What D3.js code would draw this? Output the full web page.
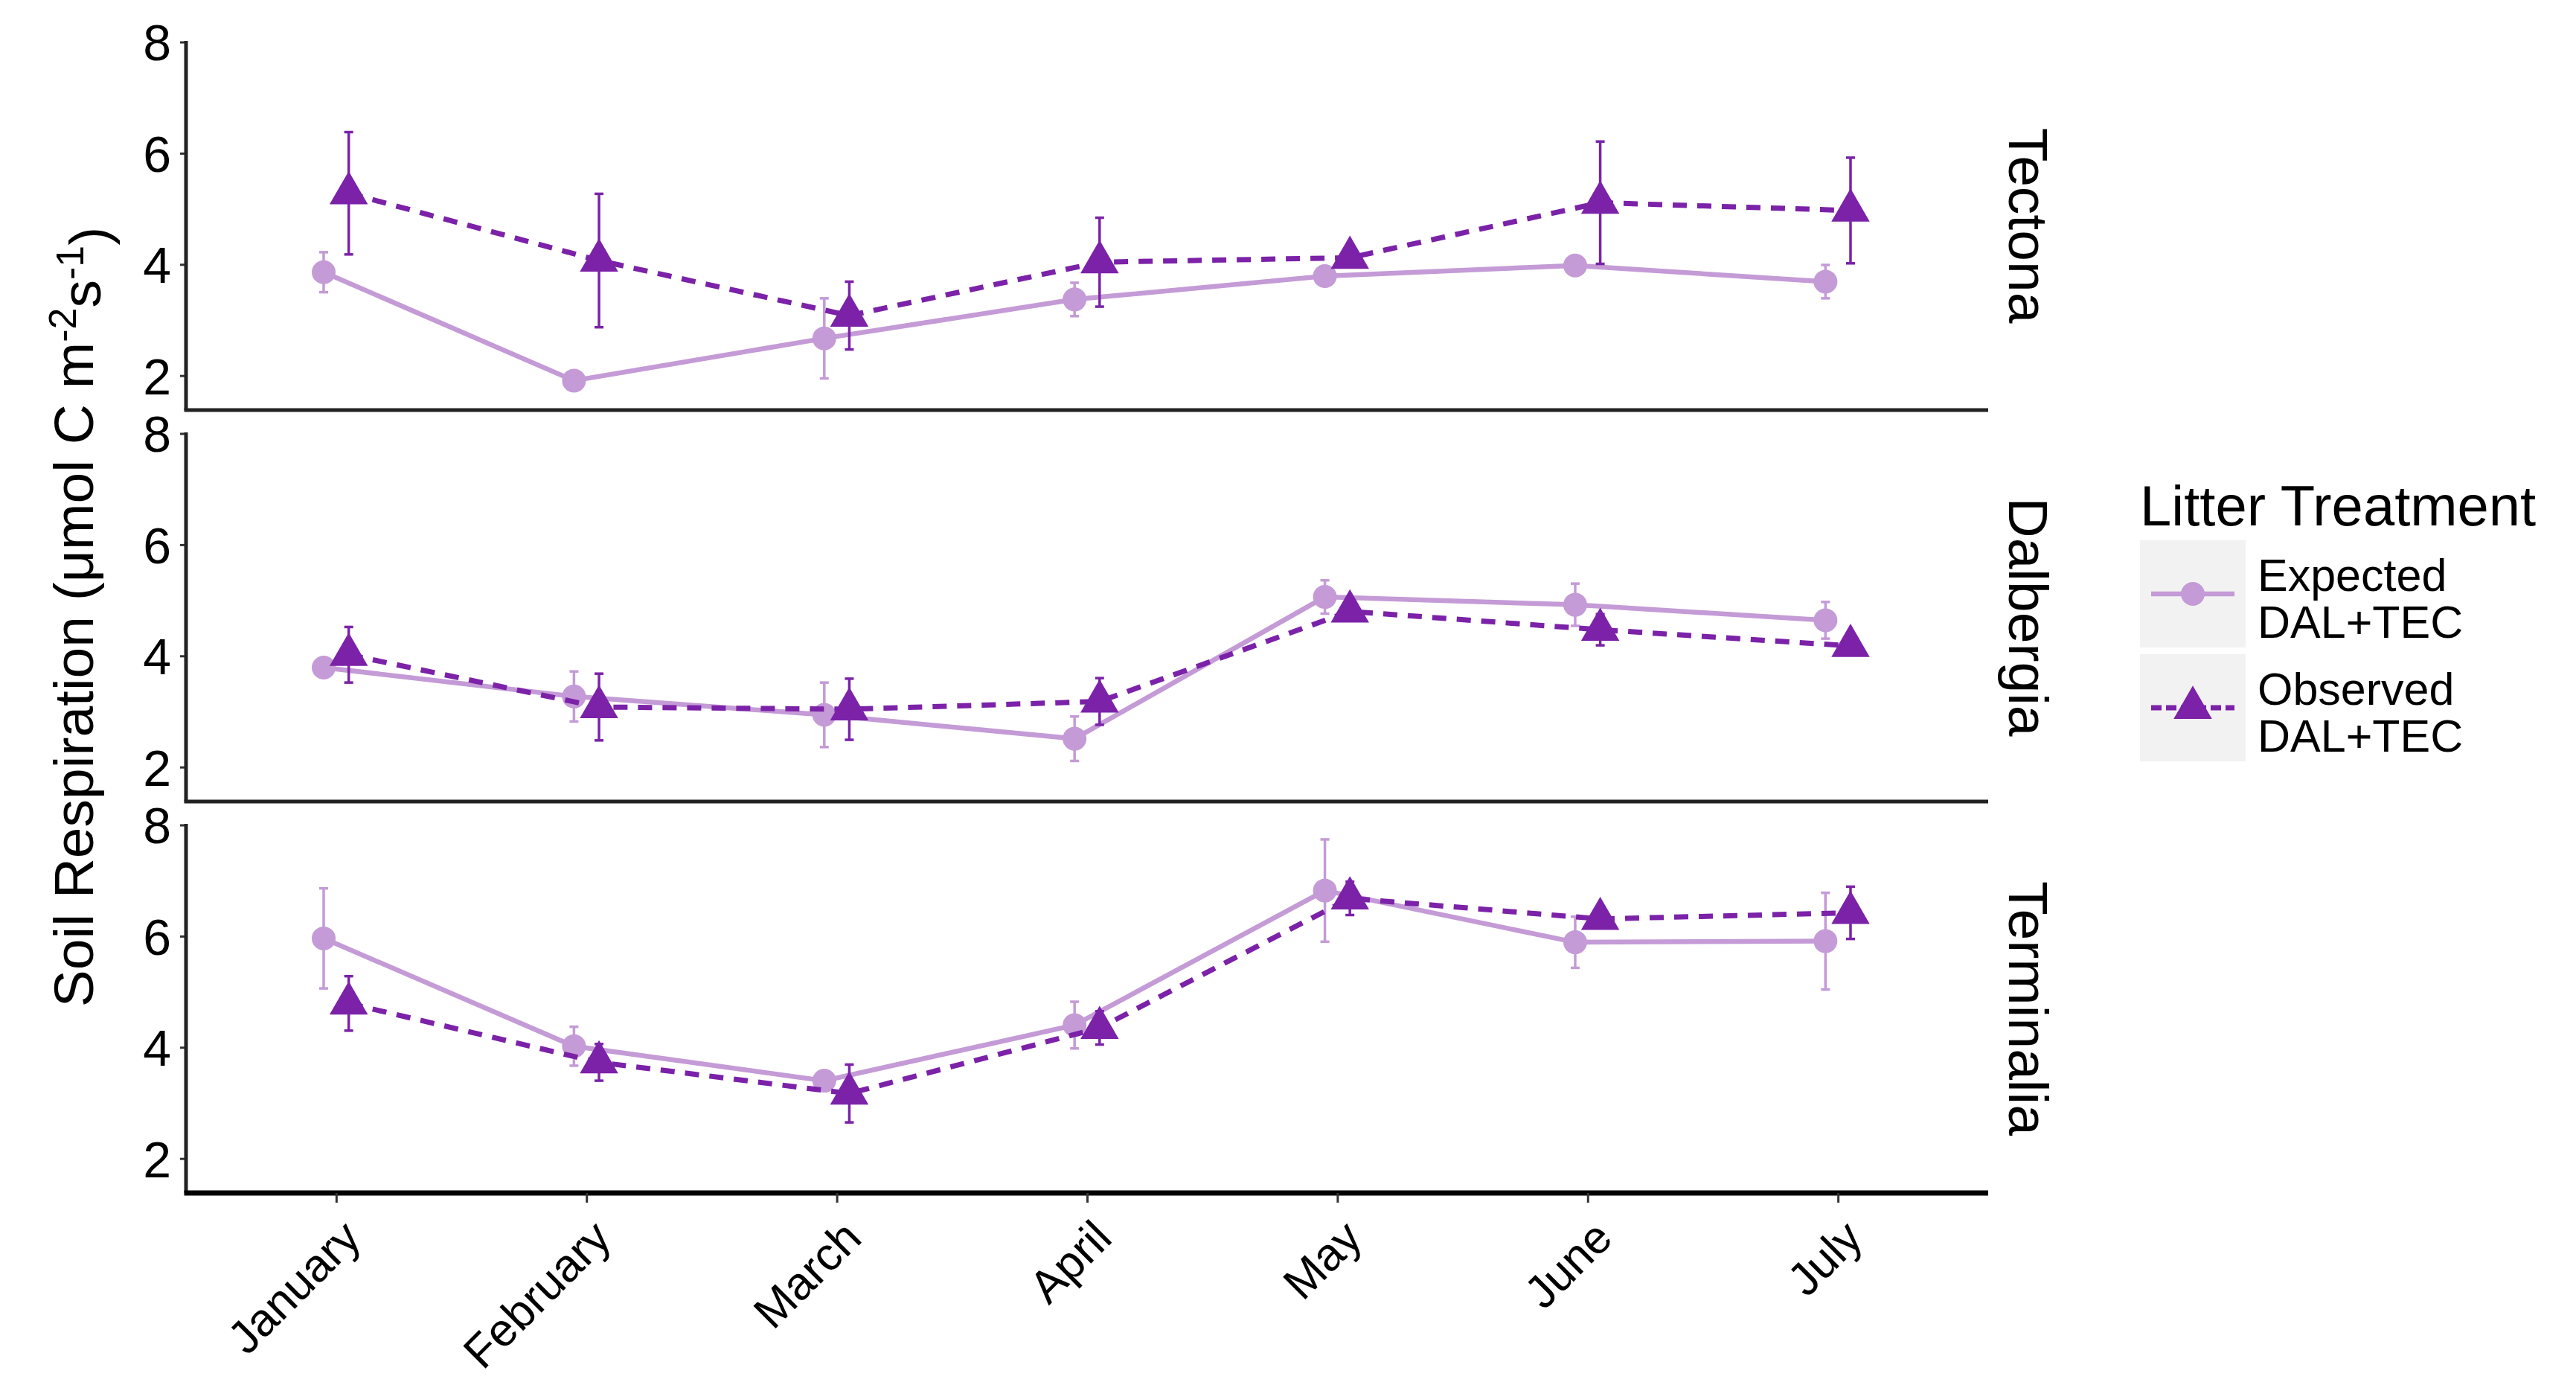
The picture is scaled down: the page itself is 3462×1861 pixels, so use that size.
<!DOCTYPE html>
<html>
<head>
<meta charset="utf-8">
<script src="https://cdn.jsdelivr.net/npm/d3@7"></script>
<style>
	body { margin: 0; background: #fff; }
	text { font-family: "Liberation Sans", Arial, sans-serif; fill: #000; }
</style>
</head>
<body>
<script>
var months = ["January", "February", "March", "April", "May", "June", "July"];
var sites = ["Tectona", "Dalbergia", "Terminalia"];
var yTicks = [2, 4, 6, 8];

//expected (DAL+TEC) means and errors, one row per site
var expMean = [
	[3.86, 1.91, 2.67, 3.37, 3.79, 3.98, 3.69],
	[3.79, 3.27, 2.94, 2.51, 5.06, 4.92, 4.64],
	[5.96, 4.02, 3.40, 4.40, 6.82, 5.89, 5.91]
];
var expErr = [
	[0.36, 0.10, 0.72, 0.30, 0.08, 0.08, 0.30],
	[0.12, 0.45, 0.58, 0.40, 0.30, 0.38, 0.33],
	[0.90, 0.35, 0.10, 0.42, 0.92, 0.46, 0.87]
];

//observed (DAL+TEC) means and errors
var obsMean = [
	[5.28, 4.07, 3.08, 4.04, 4.12, 5.11, 4.97],
	[4.02, 3.08, 3.04, 3.18, 4.80, 4.47, 4.18],
	[4.79, 3.73, 3.17, 4.35, 6.68, 6.31, 6.42]
];
var obsErr = [
	[1.10, 1.20, 0.61, 0.80, 0.06, 1.10, 0.95],
	[0.50, 0.60, 0.55, 0.42, 0.10, 0.28, 0.06],
	[0.49, 0.33, 0.52, 0.30, 0.30, 0.10, 0.47]
];

window.onload = function(){
	var w = 3462, h = 1861;
	var left = 250, right = 2672;
	var panelTop = [55, 581, 1107], panelH = 496;

	var expColor = "#C49BD6", obsColor = "#7B22A8";

	var svg = d3.select("body")
		.append("svg")
		.attr("width", w)
		.attr("height", h)
		.attr("class", "container");

	var x = d3.scalePoint()
		.domain(months)
		.range([left, right])
		.padding(0.6);

	var dodge = x.step() * 0.05;

	var series = [
		{name: "Expected", mean: expMean, err: expErr, color: expColor, off: -dodge, dash: null, width: 6.5},
		{name: "Observed", mean: obsMean, err: obsErr, color: obsColor, off: dodge, dash: "19,14", width: 7}
	];

	var tri = d3.symbol().type(d3.symbolTriangle).size(1150);

	sites.forEach(function(site, si){
		var top = panelTop[si];
		var y = d3.scaleLinear()
			.domain([1.38, 8.02])
			.range([top + panelH, top]);

		var panel = svg.append("g")
			.attr("class", "panel");

		//y axis with ticks 2..8
		var yAxis = d3.axisLeft(y)
			.tickValues(yTicks)
			.tickFormat(d3.format("d"))
			.tickSize(8)
			.tickPadding(12);

		var ya = panel.append("g")
			.attr("class", "axis")
			.attr("transform", "translate(" + left + ",0)")
			.call(yAxis);
		ya.select(".domain").remove();
		ya.selectAll(".tick line").attr("stroke", "#333").attr("stroke-width", 3);
		ya.selectAll("text")
			.style("font-size", "68px")
			.attr("dy", "0.36em");

		panel.append("line")
			.attr("x1", left).attr("x2", left)
			.attr("y1", top).attr("y2", top + panelH)
			.attr("stroke", "#222")
			.attr("stroke-width", 5);

		//bottom line of panel
		panel.append("line")
			.attr("x1", left - 2.5).attr("x2", right)
			.attr("y1", top + panelH).attr("y2", top + panelH)
			.attr("stroke", si == 2 ? "#000" : "#222")
			.attr("stroke-width", si == 2 ? 7 : 5);

		//strip label on the right
		panel.append("text")
			.attr("class", "strip")
			.attr("transform", "translate(2727," + (top + panelH / 2) + ") rotate(90)")
			.attr("text-anchor", "middle")
			.attr("dy", "0.36em")
			.style("font-size", "75px")
			.text(site);

		series.forEach(function(s){
			var pts = months.map(function(m, i){
				return {m: m, v: s.mean[si][i], e: s.err[si][i]};
			});

			var line = d3.line()
				.x(function(d){ return x(d.m) + s.off; })
				.y(function(d){ return y(d.v); });

			panel.append("path")
				.datum(pts)
				.attr("d", line)
				.attr("fill", "none")
				.attr("stroke", s.color)
				.attr("stroke-width", s.width)
				.attr("stroke-dasharray", s.dash);

			//error bars
			var eb = panel.selectAll(".eb" + s.name)
				.data(pts)
				.enter()
				.append("g")
				.attr("stroke", s.color)
				.attr("stroke-width", 3.5);
			eb.append("line")
				.attr("x1", function(d){ return x(d.m) + s.off; })
				.attr("x2", function(d){ return x(d.m) + s.off; })
				.attr("y1", function(d){ return y(d.v - d.e); })
				.attr("y2", function(d){ return y(d.v + d.e); });
			eb.append("line")
				.attr("x1", function(d){ return x(d.m) + s.off - 6; })
				.attr("x2", function(d){ return x(d.m) + s.off + 6; })
				.attr("y1", function(d){ return y(d.v + d.e); })
				.attr("y2", function(d){ return y(d.v + d.e); });
			eb.append("line")
				.attr("x1", function(d){ return x(d.m) + s.off - 6; })
				.attr("x2", function(d){ return x(d.m) + s.off + 6; })
				.attr("y1", function(d){ return y(d.v - d.e); })
				.attr("y2", function(d){ return y(d.v - d.e); });

			//points
			if (s.name == "Expected") {
				panel.selectAll(".pt" + s.name)
					.data(pts)
					.enter()
					.append("circle")
					.attr("cx", function(d){ return x(d.m) + s.off; })
					.attr("cy", function(d){ return y(d.v); })
					.attr("r", 16)
					.attr("fill", s.color);
			} else {
				panel.selectAll(".pt" + s.name)
					.data(pts)
					.enter()
					.append("path")
					.attr("d", tri)
					.attr("transform", function(d){
						return "translate(" + (x(d.m) + s.off) + "," + y(d.v) + ")";
					})
					.attr("fill", s.color);
			}
		});

		//month labels only under the last panel
		if (si == 2) {
			var xAxis = d3.axisBottom(x)
				.tickSize(13)
				.tickPadding(0);
			var xa = panel.append("g")
				.attr("class", "axis")
				.attr("transform", "translate(0," + (top + panelH) + ")")
				.call(xAxis);
			xa.select(".domain").remove();
			xa.selectAll(".tick line").attr("stroke", "#333").attr("stroke-width", 3);
			xa.selectAll("text")
				.style("font-size", "62px")
				.attr("text-anchor", "end")
				.attr("x", 0)
				.attr("y", 0)
				.attr("dy", "0.36em")
				.attr("transform", "translate(20,48) rotate(-45)");
		}
	});

	//y axis title
	var title = svg.append("text")
		.attr("class", "ytitle")
		.attr("transform", "translate(98,829) rotate(-90)")
		.attr("text-anchor", "middle")
		.attr("dy", "0.36em")
		.style("font-size", "75px");
	title.append("tspan").text("Soil Respiration (\u03BCmol C m");
	title.append("tspan").attr("dy", "-0.45em").style("font-size", "52px").text("-2");
	title.append("tspan").attr("dy", "0.45em").text("s");
	title.append("tspan").attr("dy", "-0.45em").style("font-size", "52px").text("-1");
	title.append("tspan").attr("dy", "0.45em").text(")");

	//legend
	var legend = svg.append("g")
		.attr("class", "legend")
		.attr("transform", "translate(2876,0)");

	legend.append("text")
		.attr("x", 0)
		.attr("y", 706)
		.style("font-size", "76px")
		.text("Litter Treatment");

	var keys = legend.selectAll(".key")
		.data(series)
		.enter()
		.append("g")
		.attr("class", "key")
		.attr("transform", function(d, i){
			return "translate(0," + (726 + i * 153) + ")";
		});

	keys.append("rect")
		.attr("width", 142)
		.attr("height", 144)
		.attr("fill", "#F2F2F2");

	keys.append("line")
		.attr("x1", 15).attr("x2", 127)
		.attr("y1", 72).attr("y2", 72)
		.attr("stroke", function(d){ return d.color; })
		.attr("stroke-width", function(d){ return d.width; })
		.attr("stroke-dasharray", function(d){ return d.name == "Observed" ? "14,6" : null; });

	keys.each(function(d){
		var g = d3.select(this);
		if (d.name == "Expected") {
			g.append("circle").attr("cx", 71).attr("cy", 72).attr("r", 16).attr("fill", d.color);
		} else {
			g.append("path").attr("d", tri).attr("transform", "translate(71,72)").attr("fill", d.color);
		}
	});

	var kt = keys.append("text")
		.attr("x", 158)
		.attr("y", 68)
		.style("font-size", "61px");
	kt.append("tspan").text(function(d){ return d.name; });
	kt.append("tspan").attr("x", 158).attr("dy", 63).text("DAL+TEC");
};
</script>
</body>
</html>
